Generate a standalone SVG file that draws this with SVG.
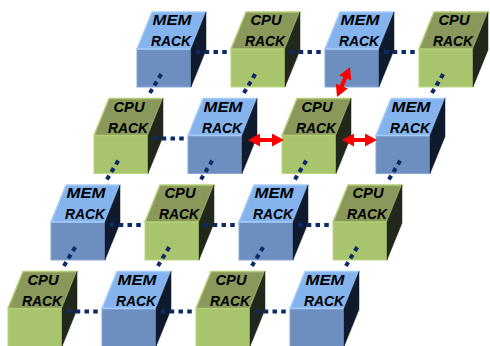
<svg xmlns="http://www.w3.org/2000/svg" width="490" height="346" viewBox="0 0 490 346">
<style>
.mem .front{fill:#6d8fc0;stroke:#86a8d8;stroke-width:1}
.mem .top{fill:#84b3ee;stroke:#a6cdfb;stroke-width:1.5;stroke-linejoin:round}
.mem .side{fill:#0f1a2c;stroke:#0f1a2c;stroke-width:0.5}
.cpu .front{fill:#a8c56e;stroke:#bcd683;stroke-width:1}
.cpu .top{fill:#8a985b;stroke:#b3cf76;stroke-width:1.5;stroke-linejoin:round}
.cpu .side{fill:#21271a;stroke:#21271a;stroke-width:0.5}
text{font-family:"Liberation Sans",Arial,sans-serif;font-weight:bold;font-style:italic;font-size:15.5px;fill:#000;text-anchor:middle;lengthAdjust:spacingAndGlyphs}
.dot{stroke:#0c2a6a;stroke-width:4;fill:none;stroke-dasharray:4.5 4.25}
.red{stroke:#ff0000;stroke-width:4;fill:none;marker-start:url(#ah);marker-end:url(#ah)}
</style>
<defs>
<marker id="ah" viewBox="0 0 12 13" markerWidth="12" markerHeight="13" refX="8" refY="6.5" markerUnits="userSpaceOnUse" orient="auto-start-reverse">
<path d="M0,0 L12,6.5 L0,13 z" fill="#ff0000"/>
</marker>
</defs>

<g id="nodes">
<!-- row 1 -->
<g id="r1c1-mem" class="mem" transform="translate(137,49)"><rect class="front" width="54" height="38"/><polygon class="top" points="0,0 15,-37 69,-37 54,0"/><polygon class="side" points="54,0 69,-37 69,1 54,38"/><text x="35" y="-24" textLength="39" lengthAdjust="spacingAndGlyphs">MEM</text><text x="34" y="-3" textLength="40" lengthAdjust="spacingAndGlyphs">RACK</text></g>
<g id="r1c2-cpu" class="cpu" transform="translate(231,49)"><rect class="front" width="54" height="38"/><polygon class="top" points="0,0 15,-37 69,-37 54,0"/><polygon class="side" points="54,0 69,-37 69,1 54,38"/><text x="35" y="-24" textLength="31" lengthAdjust="spacingAndGlyphs">CPU</text><text x="34" y="-3" textLength="40" lengthAdjust="spacingAndGlyphs">RACK</text></g>
<g id="r1c3-mem" class="mem" transform="translate(325,49)"><rect class="front" width="54" height="38"/><polygon class="top" points="0,0 15,-37 69,-37 54,0"/><polygon class="side" points="54,0 69,-37 69,1 54,38"/><text x="35" y="-24" textLength="39" lengthAdjust="spacingAndGlyphs">MEM</text><text x="34" y="-3" textLength="40" lengthAdjust="spacingAndGlyphs">RACK</text></g>
<g id="r1c4-cpu" class="cpu" transform="translate(419,49)"><rect class="front" width="54" height="38"/><polygon class="top" points="0,0 15,-37 69,-37 54,0"/><polygon class="side" points="54,0 69,-37 69,1 54,38"/><text x="35" y="-24" textLength="31" lengthAdjust="spacingAndGlyphs">CPU</text><text x="34" y="-3" textLength="40" lengthAdjust="spacingAndGlyphs">RACK</text></g>
<!-- row 2 -->
<g id="r2c1-cpu" class="cpu" transform="translate(94,135.5)"><rect class="front" width="54" height="38"/><polygon class="top" points="0,0 15,-37 69,-37 54,0"/><polygon class="side" points="54,0 69,-37 69,1 54,38"/><text x="35" y="-24" textLength="31" lengthAdjust="spacingAndGlyphs">CPU</text><text x="34" y="-3" textLength="40" lengthAdjust="spacingAndGlyphs">RACK</text></g>
<g id="r2c2-mem" class="mem" transform="translate(188,135.5)"><rect class="front" width="54" height="38"/><polygon class="top" points="0,0 15,-37 69,-37 54,0"/><polygon class="side" points="54,0 69,-37 69,1 54,38"/><text x="35" y="-24" textLength="39" lengthAdjust="spacingAndGlyphs">MEM</text><text x="34" y="-3" textLength="40" lengthAdjust="spacingAndGlyphs">RACK</text></g>
<g id="r2c3-cpu" class="cpu" transform="translate(282,135.5)"><rect class="front" width="54" height="38"/><polygon class="top" points="0,0 15,-37 69,-37 54,0"/><polygon class="side" points="54,0 69,-37 69,1 54,38"/><text x="35" y="-24" textLength="31" lengthAdjust="spacingAndGlyphs">CPU</text><text x="34" y="-3" textLength="40" lengthAdjust="spacingAndGlyphs">RACK</text></g>
<g id="r2c4-mem" class="mem" transform="translate(376,135.5)"><rect class="front" width="54" height="38"/><polygon class="top" points="0,0 15,-37 69,-37 54,0"/><polygon class="side" points="54,0 69,-37 69,1 54,38"/><text x="35" y="-24" textLength="39" lengthAdjust="spacingAndGlyphs">MEM</text><text x="34" y="-3" textLength="40" lengthAdjust="spacingAndGlyphs">RACK</text></g>
<!-- row 3 -->
<g id="r3c1-mem" class="mem" transform="translate(51,222)"><rect class="front" width="54" height="38"/><polygon class="top" points="0,0 15,-37 69,-37 54,0"/><polygon class="side" points="54,0 69,-37 69,1 54,38"/><text x="35" y="-24" textLength="39" lengthAdjust="spacingAndGlyphs">MEM</text><text x="34" y="-3" textLength="40" lengthAdjust="spacingAndGlyphs">RACK</text></g>
<g id="r3c2-cpu" class="cpu" transform="translate(145,222)"><rect class="front" width="54" height="38"/><polygon class="top" points="0,0 15,-37 69,-37 54,0"/><polygon class="side" points="54,0 69,-37 69,1 54,38"/><text x="35" y="-24" textLength="31" lengthAdjust="spacingAndGlyphs">CPU</text><text x="34" y="-3" textLength="40" lengthAdjust="spacingAndGlyphs">RACK</text></g>
<g id="r3c3-mem" class="mem" transform="translate(239,222)"><rect class="front" width="54" height="38"/><polygon class="top" points="0,0 15,-37 69,-37 54,0"/><polygon class="side" points="54,0 69,-37 69,1 54,38"/><text x="35" y="-24" textLength="39" lengthAdjust="spacingAndGlyphs">MEM</text><text x="34" y="-3" textLength="40" lengthAdjust="spacingAndGlyphs">RACK</text></g>
<g id="r3c4-cpu" class="cpu" transform="translate(333,222)"><rect class="front" width="54" height="38"/><polygon class="top" points="0,0 15,-37 69,-37 54,0"/><polygon class="side" points="54,0 69,-37 69,1 54,38"/><text x="35" y="-24" textLength="31" lengthAdjust="spacingAndGlyphs">CPU</text><text x="34" y="-3" textLength="40" lengthAdjust="spacingAndGlyphs">RACK</text></g>
<!-- row 4 -->
<g id="r4c1-cpu" class="cpu" transform="translate(8,308.5)"><rect class="front" width="54" height="38"/><polygon class="top" points="0,0 15,-37 69,-37 54,0"/><polygon class="side" points="54,0 69,-37 69,1 54,38"/><text x="35" y="-24" textLength="31" lengthAdjust="spacingAndGlyphs">CPU</text><text x="34" y="-3" textLength="40" lengthAdjust="spacingAndGlyphs">RACK</text></g>
<g id="r4c2-mem" class="mem" transform="translate(102,308.5)"><rect class="front" width="54" height="38"/><polygon class="top" points="0,0 15,-37 69,-37 54,0"/><polygon class="side" points="54,0 69,-37 69,1 54,38"/><text x="35" y="-24" textLength="39" lengthAdjust="spacingAndGlyphs">MEM</text><text x="34" y="-3" textLength="40" lengthAdjust="spacingAndGlyphs">RACK</text></g>
<g id="r4c3-cpu" class="cpu" transform="translate(196,308.5)"><rect class="front" width="54" height="38"/><polygon class="top" points="0,0 15,-37 69,-37 54,0"/><polygon class="side" points="54,0 69,-37 69,1 54,38"/><text x="35" y="-24" textLength="31" lengthAdjust="spacingAndGlyphs">CPU</text><text x="34" y="-3" textLength="40" lengthAdjust="spacingAndGlyphs">RACK</text></g>
<g id="r4c4-mem" class="mem" transform="translate(290,308.5)"><rect class="front" width="54" height="38"/><polygon class="top" points="0,0 15,-37 69,-37 54,0"/><polygon class="side" points="54,0 69,-37 69,1 54,38"/><text x="35" y="-24" textLength="39" lengthAdjust="spacingAndGlyphs">MEM</text><text x="34" y="-3" textLength="40" lengthAdjust="spacingAndGlyphs">RACK</text></g>
</g>

<g id="connectors">
<!-- horizontal dotted links -->
<line class="dot" x1="196" y1="52" x2="230" y2="52"/>
<line class="dot" x1="290" y1="52" x2="324" y2="52"/>
<line class="dot" x1="384" y1="52" x2="418" y2="52"/>
<line class="dot" x1="153" y1="138.5" x2="187" y2="138.5"/>
<line class="dot" x1="110" y1="225" x2="144" y2="225"/>
<line class="dot" x1="204" y1="225" x2="238" y2="225"/>
<line class="dot" x1="298" y1="225" x2="332" y2="225"/>
<line class="dot" x1="67" y1="311.5" x2="101" y2="311.5"/>
<line class="dot" x1="161" y1="311.5" x2="195" y2="311.5"/>
<line class="dot" x1="255" y1="311.5" x2="289" y2="311.5"/>
<!-- diagonal dotted links -->
<line class="dot" x1="161.2" y1="74.1" x2="149.9" y2="93"/>
<line class="dot" x1="255.2" y1="74.1" x2="243.9" y2="93"/>
<line class="dot" x1="443.2" y1="74.1" x2="431.9" y2="93"/>
<line class="dot" x1="118.2" y1="160.6" x2="106.9" y2="179.5"/>
<line class="dot" x1="212.2" y1="160.6" x2="200.9" y2="179.5"/>
<line class="dot" x1="306.2" y1="160.6" x2="294.9" y2="179.5"/>
<line class="dot" x1="400.2" y1="160.6" x2="388.9" y2="179.5"/>
<line class="dot" x1="75.2" y1="247.1" x2="63.9" y2="266"/>
<line class="dot" x1="169.2" y1="247.1" x2="157.9" y2="266"/>
<line class="dot" x1="263.2" y1="247.1" x2="251.9" y2="266"/>
<line class="dot" x1="357.2" y1="247.1" x2="345.9" y2="266"/>
<!-- red double arrows -->
<line class="red" x1="252" y1="140" x2="280" y2="140"/>
<line class="red" x1="346" y1="140" x2="373" y2="140"/>
<line class="red" x1="348.4" y1="70.7" x2="338.6" y2="93.3"/>
</g>
</svg>
